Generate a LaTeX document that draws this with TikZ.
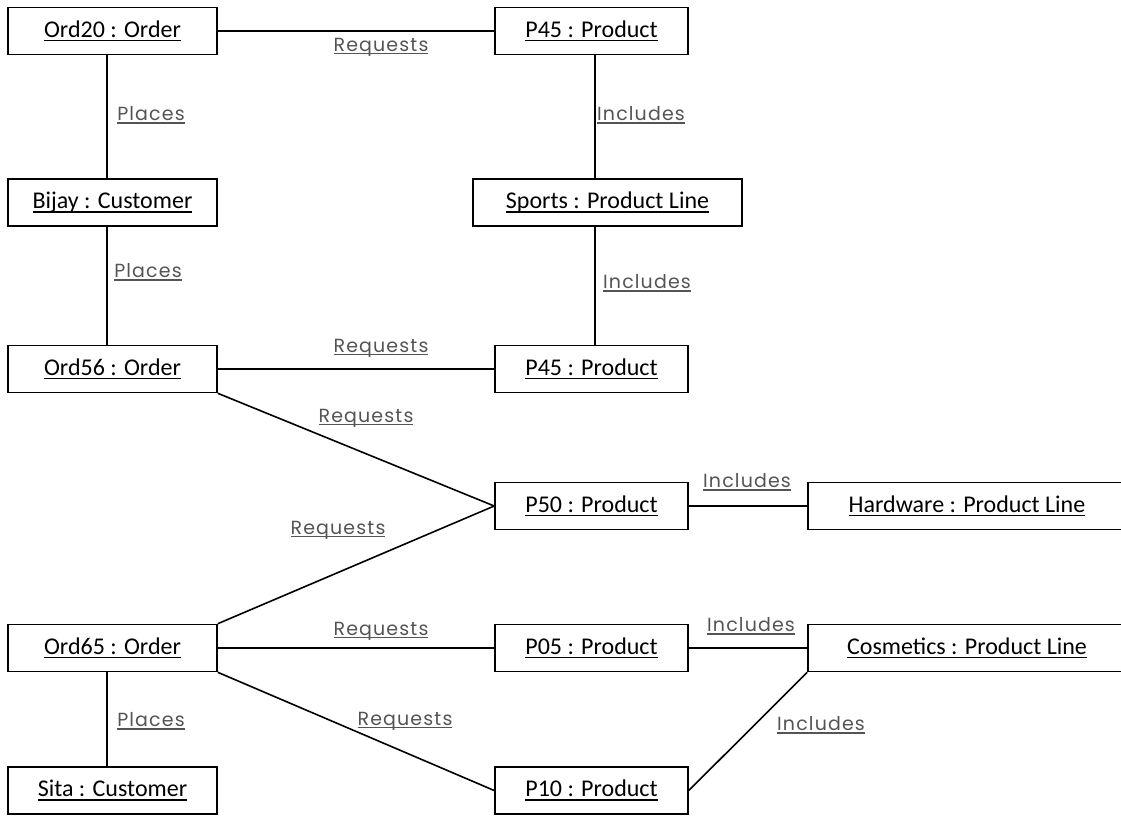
\documentclass[tikz,border=0pt]{standalone}
\usepackage{fontspec}
\setmainfont{Carlito}
\newfontfamily\lblfont[LetterSpace=6]{Poppins}
\usetikzlibrary{positioning}
\definecolor{lblgray}{gray}{0.33}
\newcommand{\undl}[1]{\setbox0\hbox{#1}\rlap{\rule[-0.17em]{\wd0}{0.07em}}\box0}

\begin{document}
\begin{tikzpicture}[x=1pt,y=-1pt,
  obj/.style={draw,line width=1.6pt,minimum height=47pt,minimum width=193pt,
              inner sep=0pt,font=\fontsize{24}{28}\selectfont},
  objl/.style={obj,minimum width=209pt},
  objw/.style={obj,minimum width=318pt},
  lbl/.style={inner sep=0pt,text=lblgray,font=\lblfont\fontsize{19}{22}\selectfont},
  link/.style={line width=1.6pt}]
  \useasboundingbox (0,0) rectangle (1121,816);
  \clip (0,0) rectangle (1121,816);
  % objects
  \node[objl](ord20) at (112.5,31) {\undl{Ord20 : Order}};
  \node[obj](p45a) at (591.5,31) {\undl{P45 : Product}};
  \node[objl](bijay) at (112.5,202.5) {\undl{Bijay : Customer}};
  \node[obj,minimum width=269pt](sports) at (607.5,202.5) {\undl{Sports : Product Line}};
  \node[objl](ord56) at (112.5,369) {\undl{Ord56 : Order}};
  \node[obj](p45b) at (591.5,369) {\undl{P45 : Product}};
  \node[obj](p50) at (591.5,506) {\undl{P50 : Product}};
  \node[objw](hardware) at (967,506) {\undl{Hardware : Product Line}};
  \node[objl](ord65) at (112.5,648) {\undl{Ord65 : Order}};
  \node[obj](p05) at (591.5,648) {\undl{P05 : Product}};
  \node[objw](cosmetics) at (967,648) {\undl{Cosmetics : Product Line}};
  \node[objl](sita) at (112.5,790.5) {\undl{Sita : Customer}};
  \node[obj](p10) at (591.5,790.5) {\undl{P10 : Product}};
  % links
  \draw[link](ord20)--(p45a);
  \draw[link]([xshift=-5.5pt]ord20.south)--([xshift=-5.5pt]bijay.north);
  \draw[link]([xshift=3.5pt]p45a.south)--([xshift=3.5pt]p45a.south |- sports.north);
  \draw[link]([xshift=-5.5pt]bijay.south)--([xshift=-5.5pt]ord56.north);
  \draw[link]([xshift=3.5pt]p45b.north |- sports.south)--([xshift=3.5pt]p45b.north);
  \draw[link](ord56)--(p45b);
  \draw[link](ord56.south east)--(p50.west);
  \draw[link](ord65.north east)--(p50.west);
  \draw[link](p50)--(hardware);
  \draw[link](ord65)--(p05);
  \draw[link](p05)--(cosmetics);
  \draw[link](ord65.south east)--(p10.west);
  \draw[link](p10.east)--(cosmetics.south west);
  \draw[link]([xshift=-5.5pt]ord65.south)--([xshift=-5.5pt]sita.north);
  % link labels
  \node[lbl](l1) at (381,47) {\undl{Requests}};
  \node[lbl](l2) at (151,115) {\undl{Places}};
  \node[lbl](l3) at (641,115) {\undl{Includes}};
  \node[lbl](l4) at (148,272) {\undl{Places}};
  \node[lbl](l5) at (647,283) {\undl{Includes}};
  \node[lbl](l6) at (381,348) {\undl{Requests}};
  \node[lbl](l7) at (366,418) {\undl{Requests}};
  \node[lbl](l8) at (747,482) {\undl{Includes}};
  \node[lbl](l9) at (338,530) {\undl{Requests}};
  \node[lbl](l10) at (381,631) {\undl{Requests}};
  \node[lbl](l11) at (751,626) {\undl{Includes}};
  \node[lbl](l12) at (151,721) {\undl{Places}};
  \node[lbl](l13) at (405,721) {\undl{Requests}};
  \node[lbl](l14) at (821,725) {\undl{Includes}};
\end{tikzpicture}
\end{document}
